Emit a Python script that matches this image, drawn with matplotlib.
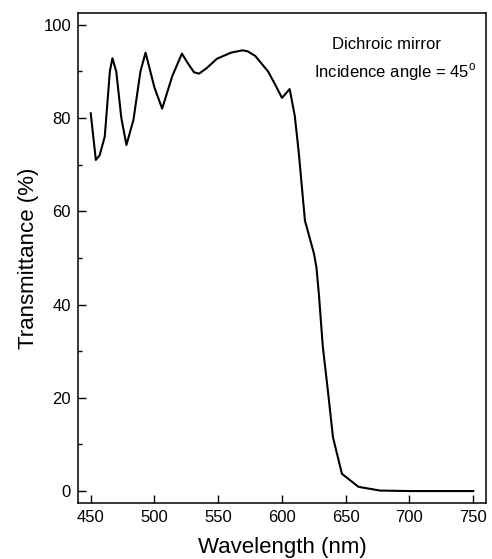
import matplotlib
matplotlib.use("Agg")
import matplotlib.pyplot as plt
from matplotlib.ticker import MultipleLocator

plt.rcParams['font.family'] = ['Liberation Sans', 'DejaVu Sans']
plt.rcParams['mathtext.fontset'] = 'custom'
plt.rcParams['mathtext.rm'] = 'Liberation Sans'

# transmittance of the dichroic mirror
wavelength = [450, 454, 457, 461, 465, 467, 470, 474, 478, 483.5, 489, 493,
              500, 506, 514, 521.5, 526, 531, 535, 541, 549, 560, 569, 573,
              579, 589, 594, 600, 606, 610, 613, 616, 618, 621, 625, 627,
              629, 632, 636, 640, 647, 660, 677, 700, 750]
transmittance = [81, 71, 72, 76, 90, 92.8, 90, 80, 74.2, 79.6, 90, 94,
                 86.5, 82, 89, 93.8, 91.8, 89.8, 89.5, 90.7, 92.7, 94, 94.5, 94.3,
                 93.3, 90, 87.5, 84.3, 86.2, 80.5, 73, 64, 58, 55, 51, 48,
                 42, 31, 21.5, 11.5, 3.7, 0.9, 0.1, 0, 0]

xticks = [450, 500, 550, 600, 650, 700, 750]
yticks = [0, 20, 40, 60, 80, 100]

fig = plt.figure(figsize=(4.92, 5.59), dpi=100)
ax = fig.add_axes([0.1585, 0.1007, 0.8293, 0.876])

ax.plot(wavelength, transmittance, color='black', lw=1.5)

ax.set_xlim(440, 760)
ax.set_ylim(-2.5, 102.5)
ax.set_xticks(xticks)
ax.set_yticks(yticks)
ax.yaxis.set_minor_locator(MultipleLocator(10))
ax.tick_params(which='major', direction='in', length=5.5, width=1, labelsize=12, pad=5)
ax.tick_params(which='minor', direction='in', length=3, width=1)
for s in ax.spines.values():
    s.set_linewidth(1.1)

ax.set_xlabel('Wavelength (nm)', fontsize=16, labelpad=9)
ax.set_ylabel('Transmittance (%)', fontsize=16, labelpad=3)

ax.text(0.755, 0.935, 'Dichroic mirror', transform=ax.transAxes,
        ha='center', va='center', fontsize=12)
ax.text(0.777, 0.88, 'Incidence angle = 45$^\\mathregular{o}$', transform=ax.transAxes,
        ha='center', va='center', fontsize=12)

fig.savefig('out.png', dpi=100)
